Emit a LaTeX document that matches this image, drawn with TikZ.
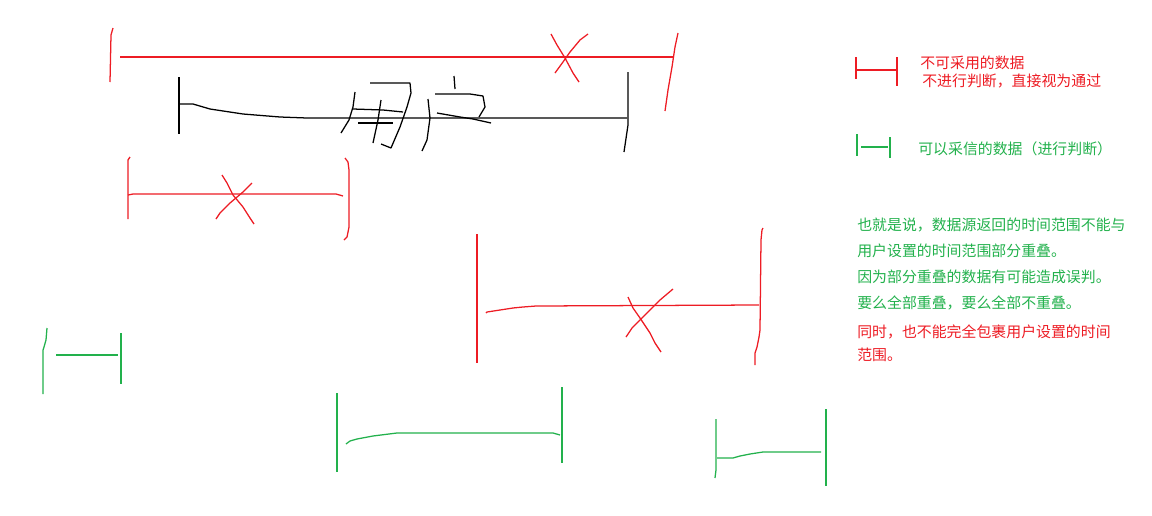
\documentclass[tikz,border=0pt]{standalone}
\usepackage{fontspec}
\newfontfamily\cjk{Noto Sans CJK SC}
\usepackage{tikz}
\usetikzlibrary{positioning}
\definecolor{paintred}{HTML}{ED1C24}
\definecolor{paintgreen}{HTML}{22B14C}

\begin{document}
\begin{tikzpicture}[x=0.025cm, y=-0.025cm,
    pen/.style={line width=0.9pt, line join=round},
    redpen/.style={pen, paintred},
    greenpen/.style={pen, paintgreen},
    blackpen/.style={pen, black},
    note/.style={anchor=west, inner sep=0pt, font=\cjk\fontsize{10.6}{12}\selectfont}]
  \useasboundingbox (0,0) rectangle (1152,515);

  % top range, unusable
  \draw[redpen] (113,28) -- (111,35) -- (110,82);
  \draw[redpen] (120,57) -- (673,57);
  \draw[redpen] (678,33) -- (675,47) -- (672,67) -- (668,90) -- (665,111);
  \draw[redpen] (551,34) -- (557,45) -- (565,58) -- (573,73) -- (579,82);
  \draw[redpen] (588,34) -- (580,40) -- (570,52) -- (563,62) -- (555,73);

  % user range
  \draw[blackpen] (179,77) -- (179,134);
  \draw[blackpen] (179,104) -- (193,104) -- (210,109) -- (243,114) -- (280,117) -- (307,118) -- (627,118);
  \draw[blackpen] (628,72) -- (628,120) -- (628,125) -- (624,152);
  % handwritten user
  \draw[blackpen] (355,92) -- (353,107) -- (349,120) -- (341,133);
  \draw[blackpen] (370,83) -- (410,83) -- (411,93) -- (407,107) -- (400,127) -- (391,148) -- (381,144);
  \draw[blackpen] (353,109) -- (383,110) -- (403,112);
  \draw[blackpen] (358,123) -- (393,123);
  \draw[blackpen] (381,100) -- (378,120) -- (373,143);
  \draw[blackpen] (454,76) -- (455,89);
  \draw[blackpen] (428,99) -- (430,118) -- (427,140) -- (422,151);
  \draw[blackpen] (435,94) -- (470,94) -- (483,96) -- (485,107) -- (479,117);
  \draw[blackpen] (437,113) -- (460,117) -- (473,119) -- (491,123);

  % left range, unusable
  \draw[redpen] (130,157) -- (128,160) -- (128,219);
  \draw[redpen] (128,195) -- (133,194) -- (336,194) -- (343,196);
  \draw[redpen] (345,158) -- (348,162) -- (349,170) -- (349,227) -- (347,237) -- (344,240);
  \draw[redpen] (222,175) -- (227,183) -- (233,195) -- (243,207) -- (250,218) -- (254,224);
  \draw[redpen] (252,183) -- (243,192) -- (230,203) -- (220,213) -- (216,219);

  % right range, unusable
  \draw[redpen] (477,234) -- (477,363);
  \draw[redpen] (486,313) -- (487,312) -- (500,310) -- (513,308) -- (523,307) -- (536,306) -- (759,305);
  \draw[redpen] (763,228) -- (762,230) -- (761,240) -- (760,330) -- (759,337) -- (757,347) -- (755,353) -- (755,365);
  \draw[redpen] (628,297) -- (633,308) -- (640,318) -- (650,333) -- (655,343) -- (661,352);
  \draw[redpen] (673,289) -- (660,300) -- (650,310) -- (640,320) -- (632,328) -- (626,337);

  % usable ranges
  \draw[greenpen] (47,328) -- (46,340) -- (44,347) -- (43,350) -- (43,394);
  \draw[greenpen] (56,355) -- (118,355);
  \draw[greenpen] (121,333) -- (121,384);

  \draw[greenpen] (337,393) -- (337,472);
  \draw[greenpen] (346,444) -- (350,441) -- (357,439) -- (373,436) -- (397,433) -- (553,433) -- (560,435);
  \draw[greenpen] (562,387) -- (562,463);

  \draw[greenpen] (716,419) -- (716,470) -- (715,478);
  \draw[greenpen] (717,458) -- (733,458) -- (740,456) -- (750,454) -- (763,452) -- (821,452);
  \draw[greenpen] (826,409) -- (826,486);

  % legend
  \draw[redpen] (856,57) -- (856,79);
  \draw[redpen] (856,70) -- (898,70);
  \draw[redpen] (897,57) -- (897,86);
  \node[note, paintred] (badtitle) at (920,63) {不可采用的数据};
  \node[note, paintred] (badnote) at (922,81) {不进行判断，直接视为通过};

  \draw[greenpen] (857,134) -- (857,156);
  \draw[greenpen] (861,147) -- (888,147);
  \draw[greenpen] (890,137) -- (890,158);
  \node[note, paintgreen] (goodtitle) at (918,149) {可以采信的数据（进行判断）};

  % explanation
  \node[note, paintgreen] (line1) at (857,225) {也就是说，数据源返回的时间范围不能与};
  \node[note, paintgreen] (line2) at (857,251) {用户设置的时间范围部分重叠。};
  \node[note, paintgreen] (line3) at (857,277) {因为部分重叠的数据有可能造成误判。};
  \node[note, paintgreen] (line4) at (857,303) {要么全部重叠，要么全部不重叠。};
  \node[note, paintred] (line5) at (857,332) {同时，也不能完全包裹用户设置的时间};
  \node[note, paintred] (line6) at (857,355) {范围。};
\end{tikzpicture}
\end{document}
